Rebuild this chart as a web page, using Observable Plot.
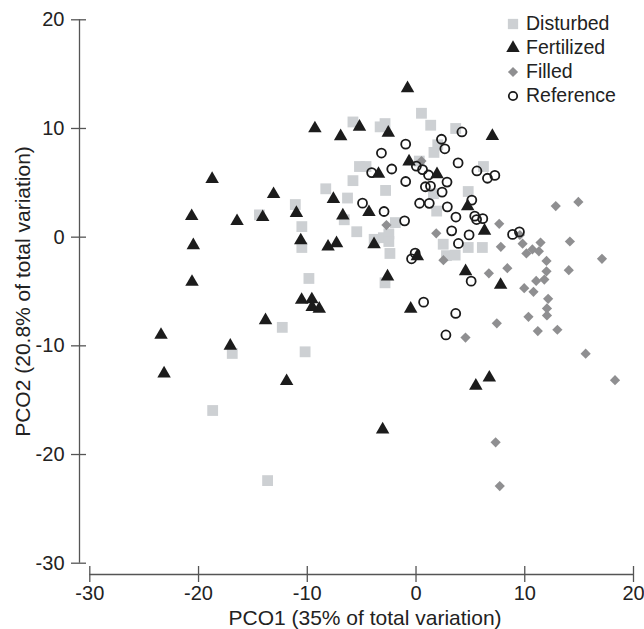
<!DOCTYPE html>
<html>
<head>
<meta charset="utf-8">
<script src="https://cdn.jsdelivr.net/npm/d3@7"></script>
<script src="https://cdn.jsdelivr.net/npm/@observablehq/plot@0.6"></script>
<style>
  html, body { margin: 0; padding: 0; background: #fff; }
  #wrap { position: relative; width: 644px; height: 629px; font-family: "Liberation Sans", Arial, Helvetica, sans-serif; }
  #legend { position: absolute; left: 505px; top: 12px; font-size: 19.5px; color: #222; }
  .row { display: flex; align-items: center; height: 23.9px; white-space: nowrap; }
  .row svg { width: 16px; height: 16px; margin-right: 5px; flex: none; }
</style>
</head>
<body>
<div id="wrap"><div id="legend"></div></div>
<script>
// ---- data (PCO1, PCO2) ----
const disturbed = [
  [0.5,11.4],[1.35,10.3],[-5.8,10.6],[-2.85,10.45],[-3.3,10.15],[3.65,10.0],[1.65,7.8],[2.0,8.5],
  [-5.2,6.5],[-4.6,6.5],[-5.8,5.2],[0.3,7.0],[6.2,6.5],[-8.3,4.45],[-6.3,3.6],[-2.8,4.3],
  [4.8,4.2],[1.6,4.0],[-11.1,3.0],[-14.4,2.05],[-6.6,1.6],[-10.5,0.97],[-1.9,1.34],[-5.45,0.5],
  [1.9,2.4],[-10.5,-0.95],[-3.85,-0.2],[-3.0,-0.05],[-2.5,0.3],[-2.5,-0.4],[-2.4,-1.5],[2.5,-0.65],
  [2.8,-1.7],[3.6,-1.65],[4.8,-0.95],[6.1,-0.95],[-9.85,-3.8],[-2.85,-4.2],[-12.3,-8.3],[-10.2,-10.55],
  [-16.9,-10.7],[-18.7,-15.95],[-13.65,-22.4]
];
const fertilized = [
  [-0.78,13.7],[-9.3,10.0],[-5.2,10.15],[-2.55,9.6],[-6.93,9.28],[7.02,9.3],[-0.64,6.95],[-3.45,5.82],
  [1.93,5.78],[-18.75,5.35],[-13.1,3.95],[-7.6,3.5],[-4.33,2.3],[-11.0,2.22],[-6.73,1.98],[-20.63,1.93],
  [-16.46,1.47],[-14.1,1.84],[4.75,2.84],[6.3,0.58],[-20.48,-0.75],[-10.6,-0.3],[-7.31,-0.56],[-8.09,-0.88],
  [-3.86,-0.66],[0.12,-1.77],[-20.6,-4.12],[-2.62,-3.62],[4.56,-3.15],[7.78,-4.4],[-10.52,-5.78],[-9.58,-5.73],
  [-9.55,-6.43],[-8.9,-6.6],[-0.49,-6.6],[-13.84,-7.65],[-23.45,-9.0],[-17.08,-10.0],[-23.17,-12.55],[-11.9,-13.25],
  [5.5,-13.68],[6.74,-12.93],[-3.07,-17.7]
];
const filled = [
  [0.5,7.0],[12.85,2.86],[14.93,3.24],[7.65,1.23],[-2.72,1.11],[1.86,0.35],[9.55,0.2],[7.8,-0.89],
  [9.8,-0.6],[10.15,-1.5],[10.7,-1.13],[11.45,-0.5],[11.3,-1.3],[14.15,-0.4],[12.0,-2.19],[17.1,-1.99],
  [2.52,-2.12],[8.4,-2.85],[12.0,-3.14],[14.05,-3.04],[6.7,-3.33],[11.8,-3.9],[11.05,-4.03],[9.95,-4.69],
  [10.8,-5.03],[12.15,-5.67],[12.04,-6.56],[12.04,-7.2],[10.34,-7.33],[7.43,-7.93],[11.2,-8.64],[13.0,-8.52],
  [4.55,-9.24],[15.6,-10.72],[18.3,-13.16],[7.32,-18.88],[7.7,-22.9]
];
const reference = [
  [4.22,9.68],[2.34,9.01],[2.65,8.13],[-0.95,8.56],[-3.18,7.74],[3.87,6.83],[0.03,6.53],[0.6,6.22],
  [-2.23,6.27],[-4.08,5.94],[5.6,6.09],[6.57,5.42],[7.25,5.68],[1.15,5.72],[2.85,5.07],[-0.95,5.12],
  [0.86,4.64],[1.33,4.7],[2.4,4.15],[5.13,3.41],[-4.92,3.13],[0.33,3.12],[1.22,3.11],[2.88,2.79],
  [-2.94,2.36],[3.67,1.85],[5.4,1.93],[5.57,1.62],[6.14,1.7],[-1.05,1.5],[3.28,0.58],[4.88,0.21],
  [8.88,0.25],[9.51,0.48],[3.9,-0.58],[-0.08,-1.47],[-0.41,-1.99],[5.07,-4.05],[0.7,-5.98],[3.65,-7.02],
  [2.75,-9.0]
];
const xTicks = [-30, -20, -10, 0, 10, 20];
const yTicks = [-30, -20, -10, 0, 10, 20];
const xLabel = "PCO1 (35% of total variation)";
const yLabel = "PCO2 (20.8% of total variation)";
const groupNames = ["Disturbed", "Fertilized", "Filled", "Reference"];

// ---- styles ----
const FONT = '"Liberation Sans", Arial, Helvetica, sans-serif';
const C_DIST = "#cdd0d3", C_FERT = "#1c1c1c", C_FILL = "#8f8f91", C_REF = "#1a1a1a";
const AXIS = "#555";

const chart = Plot.plot({
  width: 644,
  height: 629,
  marginLeft: 89.3,
  marginRight: 11,
  marginTop: 19.3,
  marginBottom: 66.3,
  x: {domain: [-30, 20]},
  y: {domain: [-30, 20]},
  style: {fontFamily: FONT, background: "white", color: "#222", overflow: "visible"},
  marks: [
    // offset axis lines
    Plot.ruleX([-30], {y1: -30, y2: 20, dx: -10.3, stroke: AXIS, strokeWidth: 1.3}),
    Plot.ruleY([-30], {x1: -30, x2: 20, dy: 11.3, stroke: AXIS, strokeWidth: 1.3}),
    Plot.axisY({ticks: yTicks, anchor: "left", tickSize: 15, dx: -3.3, tickPadding: 7,
      tickFormat: d => String(d), label: null, stroke: AXIS, strokeWidth: 1.3, fill: "#222", fontSize: 20}),
    Plot.axisX({ticks: xTicks, anchor: "bottom", tickSize: 16, dy: 3.3, tickPadding: 3.2,
      tickFormat: d => String(d), label: null, stroke: AXIS, strokeWidth: 1.3, fill: "#222", fontSize: 20}),
    // axis titles
    Plot.text([xLabel], {frameAnchor: "bottom", text: d => d, dx: 3.4, dy: 55, textAnchor: "middle",
      lineAnchor: "middle", fontSize: 21, fill: "#222"}),
    Plot.text([yLabel], {frameAnchor: "left", text: d => d, dx: -66.7, rotate: -90, textAnchor: "middle",
      lineAnchor: "middle", fontSize: 21, fill: "#222"}),
    // data
    Plot.dot(disturbed, {x: d => d[0], y: d => d[1], symbol: "square", r: 6.1, fill: C_DIST}),
    Plot.dot(filled, {x: d => d[0], y: d => d[1], symbol: "diamond2", r: 4.6, fill: C_FILL}),
    Plot.dot(reference, {x: d => d[0], y: d => d[1], symbol: "circle", r: 4.5, fill: "none", stroke: C_REF, strokeWidth: 1.8}),
    Plot.dot(fertilized, {x: d => d[0], y: d => d[1], symbol: "triangle", r: 5.0, fill: C_FERT})
  ]
});
document.getElementById("wrap").prepend(chart);

// ---- legend (HTML) ----
const legendSymbols = [
  {type: d3.symbolSquare, size: Math.PI * 5.8 * 5.8, fill: C_DIST, stroke: "none"},
  {type: d3.symbolTriangle, size: Math.PI * 5.0 * 5.0, fill: C_FERT, stroke: "none"},
  {type: d3.symbolDiamond2, size: Math.PI * 4.6 * 4.6, fill: C_FILL, stroke: "none"},
  {type: d3.symbolCircle, size: Math.PI * 4.2 * 4.2, fill: "none", stroke: C_REF}
];
const legend = d3.select("#legend");
groupNames.forEach((name, i) => {
  const row = legend.append("div").attr("class", "row");
  const s = legendSymbols[i];
  const svg = row.append("svg").attr("viewBox", "-8 -8 16 16");
  svg.append("path").attr("d", d3.symbol(s.type, s.size)())
    .attr("fill", s.fill).attr("stroke", s.stroke).attr("stroke-width", 1.8);
  row.append("span").text(name);
});
</script>
</body>
</html>
